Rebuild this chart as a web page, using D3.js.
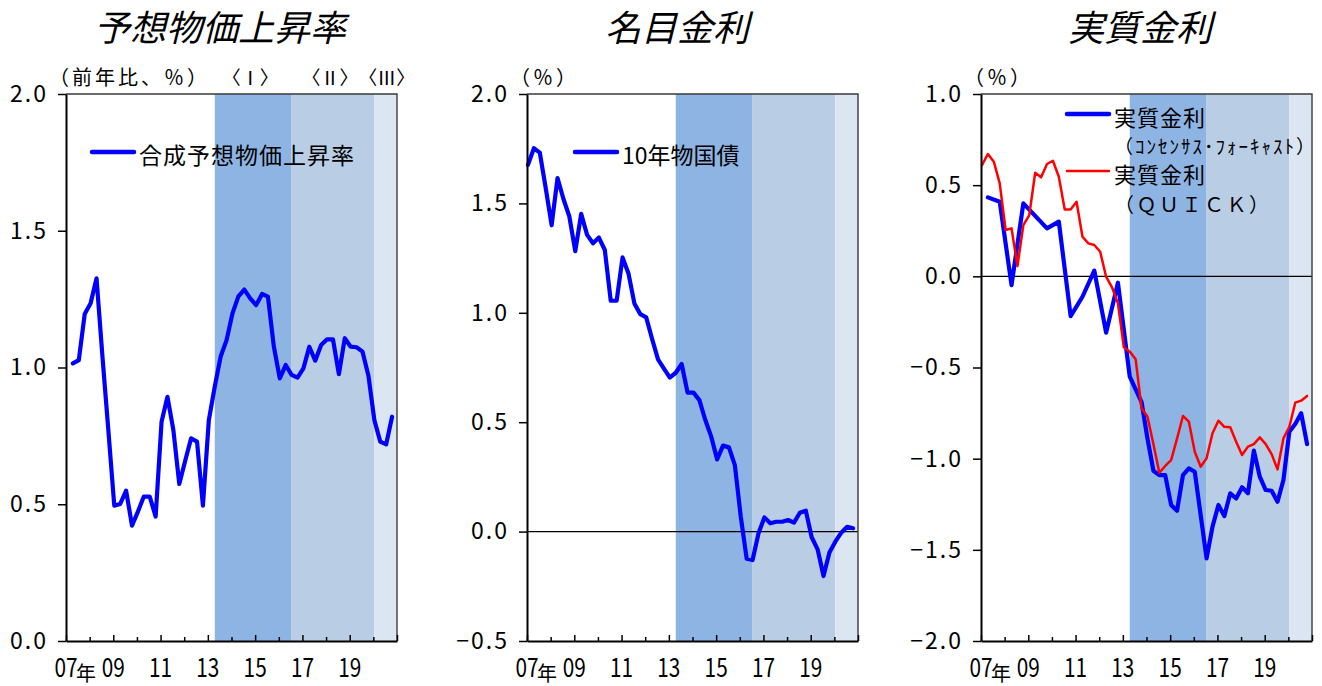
<!DOCTYPE html>
<html>
<head>
<meta charset="utf-8">
<script src="https://cdn.jsdelivr.net/npm/d3@7"></script>
<style>
  html, body { margin: 0; padding: 0; background: #fff; }
  svg { display: block; font-family: "Noto Sans CJK JP", "Noto Sans", sans-serif; }
</style>
</head>
<body>
<svg id="chart" width="1322" height="686"></svg>
<script>
// ---- data (quarterly, %) ----
const firstYear = 2007;
const lastYear = 2021;
const yearTickLabels = ["07", "09", "11", "13", "15", "17", "19"];
const yearSuffix = "年";

// synthetic expected inflation, from 2007Q2
const expectedInflationStart = "2007Q2";
const expectedInflation = [
  1.015, 1.027, 1.196, 1.235, 1.326, 1.04, 0.77, 0.495, 0.501, 0.55,
  0.422, 0.473, 0.528, 0.528, 0.455, 0.802, 0.893, 0.771, 0.574, 0.659,
  0.741, 0.729, 0.495, 0.808, 0.930, 1.04, 1.10, 1.198, 1.26, 1.285,
  1.253, 1.228, 1.269, 1.259, 1.076, 0.960, 1.009, 0.973, 0.963, 0.997,
  1.076, 1.025, 1.082, 1.103, 1.103, 0.976, 1.107, 1.076, 1.074, 1.058,
  0.97, 0.808, 0.729, 0.719, 0.820
];

// 10-year JGB yield, from 2007Q1
const jgbStart = "2007Q1";
const jgb10y = [
  1.676, 1.752, 1.732, 1.57, 1.40, 1.616, 1.52, 1.44, 1.282, 1.452,
  1.356, 1.318, 1.344, 1.287, 1.055, 1.055, 1.253, 1.180, 1.043, 0.994,
  0.979, 0.88, 0.787, 0.745, 0.704, 0.726, 0.766, 0.635, 0.635, 0.601,
  0.51, 0.434, 0.330, 0.393, 0.385, 0.304, 0.068, -0.124, -0.130, -0.008,
  0.065, 0.038, 0.045, 0.045, 0.053, 0.041, 0.086, 0.096, -0.026, -0.081,
  -0.203, -0.096, -0.046, -0.005, 0.022, 0.015
];

// real rate based on Consensus Forecasts (semi-annual survey until 2013), from 2007Q1
const realConsensusStart = "2007Q1";
const realConsensus = [
  null, 0.433, null, 0.409, null, -0.048, null, 0.40, null, null,
  null, 0.263, null, 0.30, null, -0.218, null, -0.112, null, 0.031,
  null, -0.309, null, -0.035, null, -0.55, null, -0.69, -0.89, -1.066,
  -1.09, -1.09, -1.254, -1.286, -1.09, -1.053, -1.072, -1.31, -1.547, -1.373,
  -1.254, -1.315, -1.19, -1.218, -1.157, -1.19, -0.956, -1.099, -1.172, -1.176,
  -1.236, -1.117, -0.852, -0.810, -0.751, -0.920
];

// real rate based on QUICK survey, from 2007Q1
const realQuickStart = "2007Q1";
const realQuick = [
  0.61, 0.671, 0.629, 0.51, 0.254, 0.263, 0.056, 0.281, 0.336, 0.568,
  0.543, 0.616, 0.634, 0.546, 0.367, 0.367, 0.409, 0.217, 0.181, 0.172,
  0.135, -0.002, -0.06, -0.148, -0.389, -0.413, -0.455, -0.724, -0.770, -0.92,
  -1.077, -1.04, -1.008, -0.89, -0.766, -0.797, -0.962, -1.044, -0.998, -0.861,
  -0.792, -0.825, -0.828, -0.907, -0.980, -0.934, -0.920, -0.883, -0.920, -0.975,
  -1.059, -0.889, -0.825, -0.693, -0.682, -0.656
];

// policy regimes
const regimeStarts = ["2013Q2", "2016Q3", "2020Q1"];
const regimeLabels = ["〈Ⅰ〉", "〈Ⅱ〉", "〈Ⅲ〉"];
const regimeColors = ["#8EB4E3", "#B9CDE5", "#DCE6F2"];
const regimeLabelShift = [-3, -3, 1];

// ---- helpers ----
// position of a quarter on the time axis (middle of its first month)
function quarterTime(label) {
  const y = +label.slice(0, 4), q = +label.slice(5);
  return y + (q - 1) / 4 + 1 / 24;
}
function seriesPoints(values, start) {
  const t0 = quarterTime(start);
  return values.map((v, i) => ({ t: t0 + i / 4, v }))
               .filter(d => d.v !== null);
}

// ---- layout ----
const svg = d3.select("#chart");
const plotTop = 94, plotBottom = 641, plotWidth = 331;
const blue = "#0000FF", red = "#FF0000";

const panels = [
  {
    title: "予想物価上昇率", titleX: 154, left: 66, yDomain: [0, 2], unit: "（前年比、％）",
    regimeText: true,
    series: [{ values: expectedInflation, start: expectedInflationStart, color: blue, width: 4.2 }],
    legend: [{ lineX: 26, y: 152, text: "合成予想物価上昇率", size: 23, spacing: 1, color: blue, width: 4.5 }]
  },
  {
    title: "名目金利", titleX: 150, left: 527, yDomain: [-0.5, 2], unit: "（％）",
    series: [{ values: jgb10y, start: jgbStart, color: blue, width: 4.2 }],
    legend: [{ lineX: 48, y: 152, text: "10年物国債", size: 23, spacing: 0, color: blue, width: 4.5 }]
  },
  {
    title: "実質金利", titleX: 159, left: 981, yDomain: [-2, 1], unit: "（％）",
    series: [
      { values: realConsensus, start: realConsensusStart, color: blue, width: 4.2 },
      { values: realQuick, start: realQuickStart, color: red, width: 2.5 }
    ],
    legend: [
      { lineX: 86, y: 114, text: "実質金利", sub: "（ｺﾝｾﾝｻｽ･ﾌｫｰｷｬｽﾄ）", subSize: 19, subSpacing: 2, subDy: 31, size: 22, spacing: 1, color: blue, width: 4.5 },
      { lineX: 86, y: 171, text: "実質金利", sub: "（ＱＵＩＣＫ）", subSize: 20, subSpacing: 2.5, subDy: 32, size: 22, spacing: 1, color: red, width: 2.5 }
    ]
  }
];

panels.forEach(p => {
  const right = p.left + plotWidth;
  const x = d3.scaleLinear().domain([firstYear, lastYear]).range([p.left, right]);
  const y = d3.scaleLinear().domain(p.yDomain).range([plotBottom, plotTop]);
  const g = svg.append("g");

  // regime shading
  regimeStarts.forEach((s, i) => {
    const x0 = x(quarterTime(s));
    const x1 = i + 1 < regimeStarts.length ? x(quarterTime(regimeStarts[i + 1])) : x(lastYear);
    g.append("rect")
      .attr("x", x0).attr("y", plotTop)
      .attr("width", x1 - x0).attr("height", plotBottom - plotTop)
      .attr("fill", regimeColors[i]);
    if (p.regimeText) {
      g.append("text")
        .attr("x", (x0 + x1) / 2 + regimeLabelShift[i]).attr("y", 85)
        .attr("text-anchor", "middle")
        .attr("font-size", 19)
        .text(regimeLabels[i]);
    }
  });

  // zero line
  if (p.yDomain[0] < 0) {
    g.append("line")
      .attr("x1", p.left).attr("x2", right)
      .attr("y1", y(0)).attr("y2", y(0))
      .attr("stroke", "#000").attr("stroke-width", 1.4);
  }

  // frame (top and right)
  g.append("path")
    .attr("d", `M${p.left},${plotTop}H${right}V${plotBottom}`)
    .attr("fill", "none").attr("stroke", "#3a3a3a").attr("stroke-width", 1.4);

  // series
  const line = d3.line().x(d => x(d.t)).y(d => y(d.v));
  p.series.forEach(s => {
    g.append("path")
      .datum(seriesPoints(s.values, s.start))
      .attr("d", line)
      .attr("fill", "none")
      .attr("stroke", s.color)
      .attr("stroke-width", s.width)
      .attr("stroke-linejoin", "round")
      .attr("stroke-linecap", "round");
  });

  // y axis
  const yTicks = d3.range(p.yDomain[0], p.yDomain[1] + 0.001, 0.5);
  const yAxis = g.append("g")
    .attr("transform", `translate(${p.left},0)`)
    .call(d3.axisLeft(y).tickValues(yTicks).tickSize(8).tickSizeOuter(0)
      .tickPadding(10).tickFormat(d3.format(".1f")));
  yAxis.select(".domain").attr("stroke", "#000").attr("stroke-width", 2);
  yAxis.selectAll(".tick line").attr("stroke", "#000").attr("stroke-width", 1.5);
  yAxis.selectAll(".tick text")
    .attr("font-size", 23)
    .attr("font-family", "\"Noto Sans CJK JP\", sans-serif")
    .attr("letter-spacing", 2)
    .attr("fill", "#000");

  // x axis (ticks inside)
  const xAxis = g.append("g")
    .attr("transform", `translate(0,${plotBottom})`)
    .call(d3.axisBottom(x).tickValues(d3.range(firstYear, lastYear + 1))
      .tickSize(-5).tickSizeOuter(0).tickFormat(""));
  xAxis.select(".domain").attr("stroke", "#000").attr("stroke-width", 2);
  xAxis.selectAll(".tick line")
    .attr("stroke", "#000").attr("stroke-width", 1.5)
    .attr("y2", d => (d % 2 === 1 ? -6 : -4));

  // x labels
  yearTickLabels.forEach((lab, i) => {
    const yr = 2000 + +lab;
    g.append("text")
      .attr("transform", `translate(${x(yr)},677) scale(0.8,1)`)
      .attr("text-anchor", "middle")
      .attr("font-size", 26)
      .text(lab);
    if (i === 0) {
      g.append("text")
        .attr("x", x(yr) + 10).attr("y", 681)
        .attr("font-size", 20)
        .text(yearSuffix);
    }
  });

  // unit label
  g.append("text")
    .attr("x", p.left - 17).attr("y", 85)
    .attr("font-size", 20)
    .attr("letter-spacing", 3)
    .text(p.unit);

  // title
  g.append("text")
    .attr("x", p.left + p.titleX).attr("y", 41)
    .attr("text-anchor", "middle")
    .attr("font-size", 36)
    .attr("font-style", "italic")
    .text(p.title);

  // legend
  p.legend.forEach(l => {
    const lx = p.left + l.lineX;
    g.append("line")
      .attr("x1", lx).attr("x2", lx + 42)
      .attr("y1", l.y).attr("y2", l.y)
      .attr("stroke", l.color).attr("stroke-width", l.width)
      .attr("stroke-linecap", "round");
    g.append("text")
      .attr("x", lx + 47).attr("y", l.y + 2)
      .attr("dominant-baseline", "central")
      .attr("font-size", l.size)
      .attr("letter-spacing", l.spacing)
      .text(l.text);
    if (l.sub) {
      g.append("text")
        .attr("x", lx + 47).attr("y", l.y + l.subDy)
        .attr("dominant-baseline", "central")
        .attr("font-size", l.subSize)
        .attr("letter-spacing", l.subSpacing)
        .text(l.sub);
    }
  });
});
</script>
</body>
</html>
